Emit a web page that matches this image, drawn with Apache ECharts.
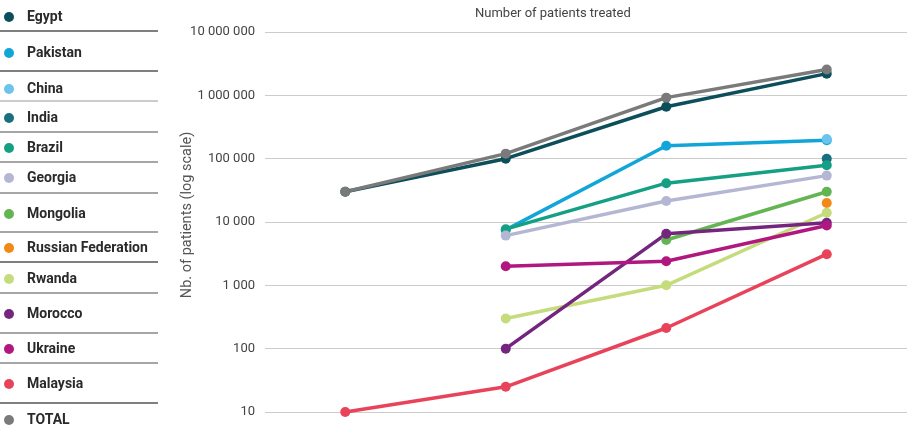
<!DOCTYPE html>
<html>
<head>
<meta charset="utf-8">
<script src="https://cdn.jsdelivr.net/npm/echarts@6/dist/echarts.min.js"></script>
<style>
  html, body { margin: 0; padding: 0; background: #fff; }
  #chart { width: 907px; height: 432px; }
</style>
</head>
<body>
<div id="chart"></div>
<script>
// Data (log scale, four periods)
const periods = ['P1', 'P2', 'P3', 'P4'];
const yTicks = [10, 100, 1000, 10000, 100000, 1000000, 10000000];

const egypt = [30000, 100000, 660000, 2200000];
const pakistan = [null, 7500, 160000, 195000];
const china = [null, null, null, 205000];
const india = [null, null, null, 100000];
const brazil = [null, 7700, 41000, 79000];
const georgia = [null, 6100, 21500, 54000];
const mongolia = [null, null, 5200, 30000];
const russia = [null, null, null, 20000];
const rwanda = [null, 300, 1000, 14000];
const morocco = [null, 100, 6500, 9700];
const ukraine = [null, 2000, 2400, 8800];
const malaysia = [10, 25, 212, 3100];
const total = [30000, 120000, 920000, 2550000];

const countries = [
  { name: 'Egypt', data: egypt, color: '#0c4f5b' },
  { name: 'Pakistan', data: pakistan, color: '#12a6d8' },
  { name: 'China', data: china, color: '#6cc3ee' },
  { name: 'India', data: india, color: '#176f80' },
  { name: 'Brazil', data: brazil, color: '#15a084' },
  { name: 'Georgia', data: georgia, color: '#b3b7d3' },
  { name: 'Mongolia', data: mongolia, color: '#63b552' },
  { name: 'Russian Federation', data: russia, color: '#f28914' },
  { name: 'Rwanda', data: rwanda, color: '#c5dc7c' },
  { name: 'Morocco', data: morocco, color: '#74267f' },
  { name: 'Ukraine', data: ukraine, color: '#b0187f' },
  { name: 'Malaysia', data: malaysia, color: '#e8435a' },
  { name: 'TOTAL', data: total, color: '#7a7a7a' }
];

// legend rows on the left, uneven spacing as in the original
const legendCenters = [16, 52, 88, 117, 147, 177, 213, 247, 278, 313, 348, 383, 419];
const separators = [
  [31, '#555'], [71, '#555'], [101, '#bbb'], [132, '#888'], [162, '#888'], [193, '#888'],
  [232, '#888'], [262, '#555'], [293, '#888'], [333, '#888'], [363, '#888'], [403, '#555']
];

const fmt = v => String(v).replace(/\B(?=(\d{3})+(?!\d))/g, ' ');

const chart = echarts.init(document.getElementById('chart'));

const option = {
  animation: false,
  textStyle: { fontFamily: 'Roboto' },
  title: {
    text: 'Number of patients treated',
    left: 475,
    top: 7,
    padding: 0,
    textStyle: { fontSize: 13, fontWeight: 'normal', color: '#444', fontFamily: 'Roboto' }
  },
  legend: countries.map((c, i) => ({
    data: [c.name],
    left: 4,
    top: legendCenters[i] - 6,
    padding: 0,
    icon: 'circle',
    itemWidth: 10,
    itemHeight: 10,
    itemGap: 0,
    textStyle: { fontSize: 14, fontWeight: 'bold', color: '#2a2a2a', fontFamily: 'Roboto', padding: [0, 0, 0, 8] }
  })),
  graphic: separators.map(s => ({
    type: 'line',
    shape: { x1: 0, y1: s[0], x2: 158, y2: s[0] },
    style: { stroke: s[1], lineWidth: 1.5 },
    silent: true
  })),
  grid: { left: 265, right: -7, top: 32, bottom: 20 },
  xAxis: {
    type: 'category',
    data: periods,
    show: false
  },
  yAxis: {
    type: 'log',
    logBase: 10,
    min: yTicks[0],
    max: yTicks[yTicks.length - 1],
    name: 'Nb. of patients (log scale)',
    nameLocation: 'middle',
    nameGap: 70,
    nameMoveOverlap: false,
    nameTextStyle: { fontSize: 14.5, color: '#555', fontFamily: 'Roboto', padding: [0, 0, 0, 14] },
    axisLine: { show: false },
    axisTick: { show: false },
    axisLabel: { formatter: fmt, fontSize: 13, color: '#444', margin: 10 },
    splitLine: { lineStyle: { color: '#cccccc', width: 1 } }
  },
  series: countries.map(c => ({
    name: c.name,
    type: 'line',
    data: c.data,
    symbol: 'circle',
    symbolSize: 10,
    showSymbol: true,
    itemStyle: { color: c.color },
    lineStyle: { color: c.color, width: 3.5 }
  }))
};

chart.setOption(option);
</script>
</body>
</html>
